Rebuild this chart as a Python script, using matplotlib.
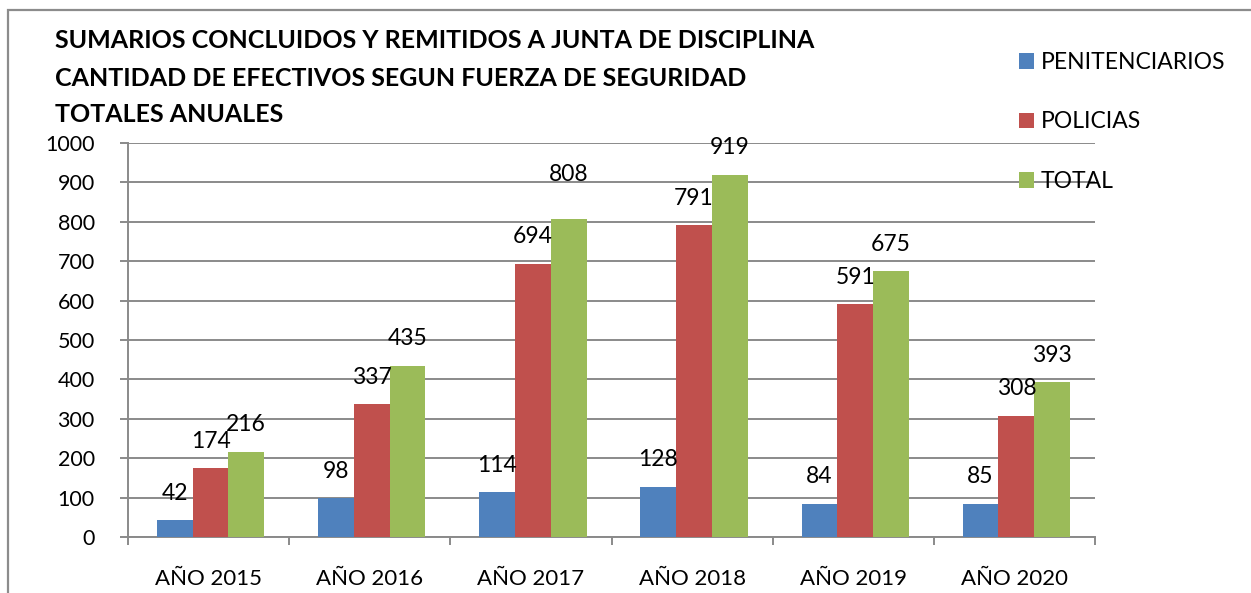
import numpy as np
import matplotlib
matplotlib.use("Agg")
import matplotlib.pyplot as plt
from matplotlib.patches import Rectangle

categories = ["AÑO 2015", "AÑO 2016", "AÑO 2017", "AÑO 2018", "AÑO 2019", "AÑO 2020"]
penitenciarios = [42, 98, 114, 128, 84, 85]
policias = [174, 337, 694, 791, 591, 308]
total = [216, 435, 808, 919, 675, 393]
series_names = ["PENITENCIARIOS", "POLICIAS", "TOTAL"]
title_lines = ["SUMARIOS CONCLUIDOS Y REMITIDOS A JUNTA DE DISCIPLINA",
               "CANTIDAD DE EFECTIVOS SEGUN FUERZA DE SEGURIDAD",
               "TOTALES ANUALES"]
yticks = list(range(0, 1001, 100))

plt.rcParams['font.family'] = ['Lato', 'DejaVu Sans']

W, H = 1251, 593
fig = plt.figure(figsize=(W / 100, H / 100), dpi=100)
ax = fig.add_axes([128 / W, 1 - 537 / H, (1095 - 128) / W, (537 - 143) / H])

colors = ["#4F81BD", "#C0504D", "#9BBB59"]
data = [penitenciarios, policias, total]
x = np.arange(len(categories))
bw = 0.222
offsets = [-bw, 0, bw]
bars = []
for i, (vals, name) in enumerate(zip(data, series_names)):
    b = ax.bar(x + offsets[i] + 0.012, vals, width=bw, color=colors[i], label=name, zorder=3)
    bars.append(b)

# data labels
extra = {(2, 2): 12.5}
for i, vals in enumerate(data):
    for j, v in enumerate(vals):
        dy = 19.4 + extra.get((i, j), 0)
        ax.annotate(str(v), (x[j] + offsets[i] + 0.012, v), xytext=(0, dy),
                    textcoords="offset points", ha="center", va="center",
                    fontsize=16.5, color="#000000", zorder=4)

gcol = "#8a8a8a"
ax.set_xlim(-0.5, len(categories) - 0.5)
ax.set_ylim(0, 1000)
ax.set_yticks(yticks)
ax.set_yticklabels([str(t) for t in yticks], fontsize=15.5)
ax.yaxis.grid(True, color=gcol, linewidth=1.4, zorder=0)
ax.set_axisbelow(True)

ax.set_xticks(x)
ax.set_xticklabels(categories, fontsize=16)
ax.set_xticks(np.arange(-0.5, len(categories), 1), minor=True)
ax.tick_params(axis='x', which='major', length=0, pad=23)
ax.tick_params(axis='x', which='minor', length=6, width=1.4, color=gcol)
ax.tick_params(axis='y', length=6, width=1.4, color=gcol, pad=18)

for s in ["top", "right"]:
    ax.spines[s].set_visible(False)
for s in ["left", "bottom"]:
    ax.spines[s].set_color(gcol)
    ax.spines[s].set_linewidth(1.4)

# title
ys = [48, 86.5, 121.5]
for line, yy in zip(title_lines, ys):
    fig.text(55 / W, 1 - yy / H, line, fontsize=18, fontweight="bold",
             ha="left", va="baseline", color="#000000")

leg = fig.legend(handles=bars, labels=series_names, loc="upper left",
                 bbox_to_anchor=(1019 / W, 1 - 52 / H), frameon=False,
                 fontsize=16.5, handlelength=0.66, handleheight=0.66,
                 handletextpad=0.3, labelspacing=1.68, borderpad=0, borderaxespad=0)

# figure border (left and top visible)
fig.patches.append(Rectangle((8 / W, -0.1), 1.2, 1 - 10 / H + 0.1,
                             transform=fig.transFigure, fill=False,
                             edgecolor="#8c8c8c", linewidth=1.6))

fig.savefig("out.png", dpi=100)
